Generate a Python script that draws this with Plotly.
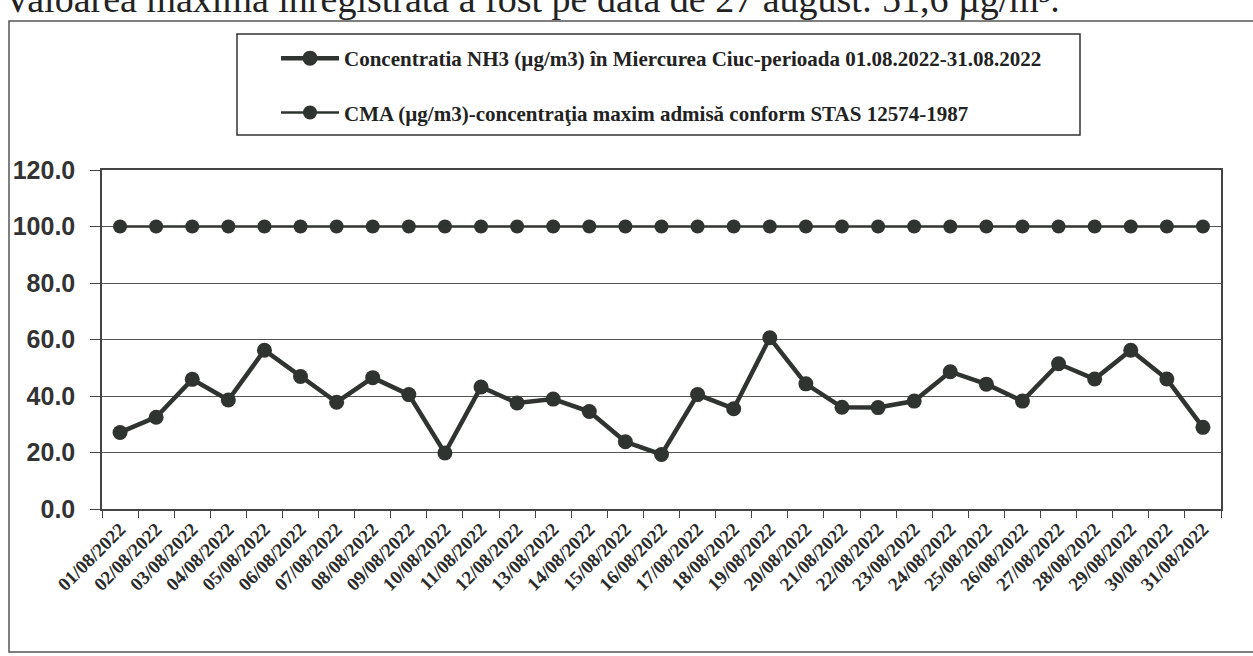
import plotly.graph_objects as go

dates = [f"{d:02d}/08/2022" for d in range(1, 32)]
nh3 = [27.1, 32.5, 45.9, 38.6, 56.2, 46.9, 37.8, 46.5, 40.5, 19.8,
       43.2, 37.5, 38.9, 34.5, 23.8, 19.3, 40.5, 35.5, 60.6, 44.3,
       36.0, 35.9, 38.2, 48.6, 44.2, 38.2, 51.4, 46.0, 56.2, 46.0, 28.9]
cma = [100.0] * 31
y_ticks = [0, 20, 40, 60, 80, 100, 120]

name_nh3 = "Concentratia NH3 (µg/m3) în Miercurea Ciuc-perioada 01.08.2022-31.08.2022"
name_cma = "CMA (µg/m3)-concentraţia maxim admisă conform STAS 12574-1987"
header = "Valoarea maximă înregistrată a fost pe data de 27 august: 51,6 µg/m³."

W, H = 1253, 656
L, R, T, B = 102, 1221, 170, 509
pw, ph = R - L, B - T

def px(x):
    return (x - L) / pw

def py(y):
    return (B - y) / ph

col = "#2f3430"

fig = go.Figure()
fig.add_trace(go.Scatter(x=dates, y=nh3, name=name_nh3, mode="lines+markers",
                         line=dict(color=col, width=4.5),
                         marker=dict(color=col, size=15),
                         legendgroup="a"))
fig.add_trace(go.Scatter(x=dates, y=cma, name=name_cma, mode="lines+markers",
                         line=dict(color=col, width=2.5),
                         marker=dict(color=col, size=14),
                         legendgroup="b"))

fig.update_layout(
    width=W, height=H,
    margin=dict(l=L, r=W - R, t=T, b=H - B, autoexpand=False),
    paper_bgcolor="white", plot_bgcolor="white",
    showlegend=True,
    legend=dict(x=px(276), y=py(38), xanchor="left", yanchor="top",
                font=dict(family="Liberation Serif", size=21, color="#222"),
                tracegroupgap=24, traceorder="grouped",
                bgcolor="rgba(0,0,0,0)", itemwidth=58),
    xaxis=dict(type="category", range=[-0.5, 30.5], tickson="boundaries",
               ticks="outside", ticklen=7, tickcolor="#444",
               tickangle=-45, showgrid=False,
               showline=True, linecolor="#444", linewidth=1.5, mirror=True,
               tickfont=dict(family="Liberation Serif", size=19, color="#2a2a2a"),
               ),
    yaxis=dict(range=[0, 120], tickvals=y_ticks, tickformat=".1f",
               ticks="outside", ticklen=10, tickcolor="#444",
               showgrid=True, gridcolor="#555", gridwidth=1.2,
               showline=True, linecolor="#444", linewidth=1.5, mirror=True,
               zeroline=False, ticklabelstandoff=10,
               tickfont=dict(family="Liberation Sans", size=25, color="#333")),
    font=dict(family="Liberation Serif"),
)

fig.update_xaxes(tickfont_weight="bold")
fig.update_yaxes(tickfont_weight="bold")
fig.update_layout(legend_font_weight="bold")

# outer chart frame
fig.add_shape(type="rect", xref="paper", yref="paper",
              x0=px(9), x1=px(1262), y0=py(652), y1=py(21),
              line=dict(color="#555", width=1.5), layer="below")
# legend box
fig.add_shape(type="rect", xref="paper", yref="paper",
              x0=px(237), x1=px(1080), y0=py(135), y1=py(34),
              line=dict(color="#333", width=1.5), layer="below")

# header text (cut off at top of page, as in the scan)
fig.add_annotation(text=header, xref="paper", yref="paper",
                   x=px(2), y=py(22), xanchor="left", yanchor="bottom",
                   showarrow=False,
                   font=dict(family="Liberation Serif", size=38, color="#222"))

fig.write_html("out.html", config={"displayModeBar": False},
               post_script="document.body.style.margin='0';document.body.style.overflow='hidden';")
